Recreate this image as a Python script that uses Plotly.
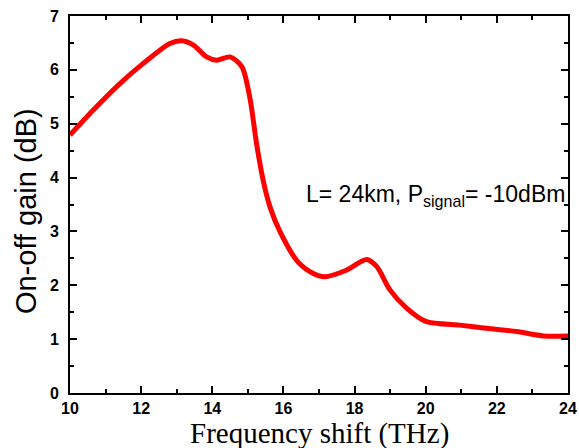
import plotly.graph_objects as go

# Frequency shift (THz) and measured on-off gain (dB)
freq_thz = [10.0, 10.65, 11.41, 12.06, 12.81, 13.14, 13.47, 13.84, 14.12, 14.50,
            14.83, 15.06, 15.24, 15.43, 15.62, 15.90, 16.40, 16.84, 17.15, 17.77,
            18.34, 18.62, 19.00, 19.47, 20.00, 20.96, 21.34, 22.56, 23.31, 24.0]
gain_db = [4.79, 5.25, 5.75, 6.12, 6.49, 6.54, 6.46, 6.24, 6.18, 6.24,
           6.06, 5.47, 4.65, 3.95, 3.46, 3.00, 2.44, 2.22, 2.16, 2.28,
           2.48, 2.35, 1.91, 1.57, 1.33, 1.26, 1.23, 1.14, 1.06, 1.06]

x_ticks = [10, 12, 14, 16, 18, 20, 22, 24]
y_ticks = [0, 1, 2, 3, 4, 5, 6, 7]

fig = go.Figure()
fig.add_trace(go.Scatter(
    x=freq_thz, y=gain_db, mode="lines",
    line=dict(color="#ff0000", width=5, shape="spline", smoothing=0.8),
    showlegend=False, hoverinfo="skip",
))

axis_common = dict(
    showline=True, linecolor="black", linewidth=2, mirror="ticks",
    ticks="inside", ticklen=7, tickwidth=2, tickcolor="black",
    showgrid=False, zeroline=False, automargin=False,
    tickfont=dict(family="Liberation Sans, Arial, sans-serif", size=16,
                  color="black", weight="bold"),
)

fig.update_xaxes(
    range=[10, 24], tickvals=x_ticks, ticktext=[str(v) for v in x_ticks],
    minor=dict(ticks="inside", ticklen=4, tickwidth=2, tickcolor="black", dtick=1, tick0=10),
    ticklabelstandoff=0,
    **axis_common,
)
fig.update_yaxes(
    range=[0, 7], tickvals=y_ticks, ticktext=[str(v) for v in y_ticks],
    minor=dict(ticks="inside", ticklen=4, tickwidth=2, tickcolor="black", dtick=0.5, tick0=0),
    ticklabelstandoff=6,
    **axis_common,
)

# Axis titles placed as paper-referenced annotations
fig.add_annotation(
    x=0.50, y=-0.107, xref="paper", yref="paper", xanchor="center", yanchor="middle",
    text="Frequency shift (THz)", showarrow=False,
    font=dict(family="Liberation Serif, Times New Roman, serif", size=29, color="black"),
)
fig.add_annotation(
    x=-0.088, y=0.483, xref="paper", yref="paper", xanchor="center", yanchor="middle",
    text="On-off gain (dB)", showarrow=False, textangle=-90,
    font=dict(family="Liberation Sans, Arial, sans-serif", size=29, color="black"),
)

fig.add_annotation(
    x=16.57, y=3.66, xref="x", yref="y", xanchor="left", yanchor="middle",
    text="L= 24km, P<sub>signal</sub>= -10dBm", showarrow=False,
    font=dict(family="Liberation Sans, Arial, sans-serif", size=23, color="black"),
)

fig.update_layout(
    width=579, height=448,
    margin=dict(l=70, r=11, t=16, b=55),
    paper_bgcolor="white", plot_bgcolor="white",
)

fig.write_html("out.html")
